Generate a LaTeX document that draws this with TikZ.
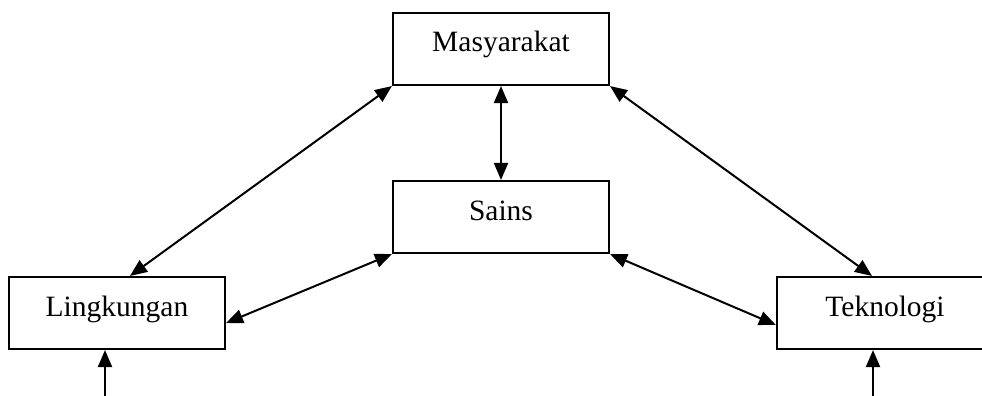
\documentclass[tikz,border=0pt]{standalone}
\usepackage{fontspec}
\setmainfont{Liberation Serif}
\usetikzlibrary{arrows.meta}
\begin{document}
\begin{tikzpicture}[x=1pt,y=-1pt,
  box/.style={draw, line width=2.1pt, rectangle, inner sep=0pt,
    minimum width=216pt, text height=39pt, text depth=33pt,
    font=\fontsize{29.5}{34}\selectfont},
  tip/.tip={Triangle[length=17pt,width=14pt]},
  link/.style={line width=2pt, tip-tip},
  feed/.style={line width=2pt, -tip}]
  \useasboundingbox (0,0) rectangle (982,396);

  % the four boxes
  \node[box] (M) at (501,49)  {Masyarakat};
  \node[box] (S) at (501,217) {Sains};
  \node[box] (L) at (117,313) {Lingkungan};
  \node[box] (T) at (885,313) {Teknologi};

  % two-way links
  \draw[link] (M.south west) -- ([xshift=13pt]L.north);
  \draw[link] (M.south) -- (S.north);
  \draw[link] (M.south east) -- ([xshift=-13pt]T.north);
  \draw[link] (S.south west) -- ([yshift=-10pt]L.east);
  \draw[link] (S.south east) -- ([yshift=-12pt]T.west);

  % inputs from below
  \coordinate (lin) at (105,400);
  \coordinate (tin) at (873,400);
  \draw[feed] (lin) -- ([xshift=-12pt]L.south);
  \draw[feed] (tin) -- ([xshift=-12pt]T.south);
\end{tikzpicture}
\end{document}
